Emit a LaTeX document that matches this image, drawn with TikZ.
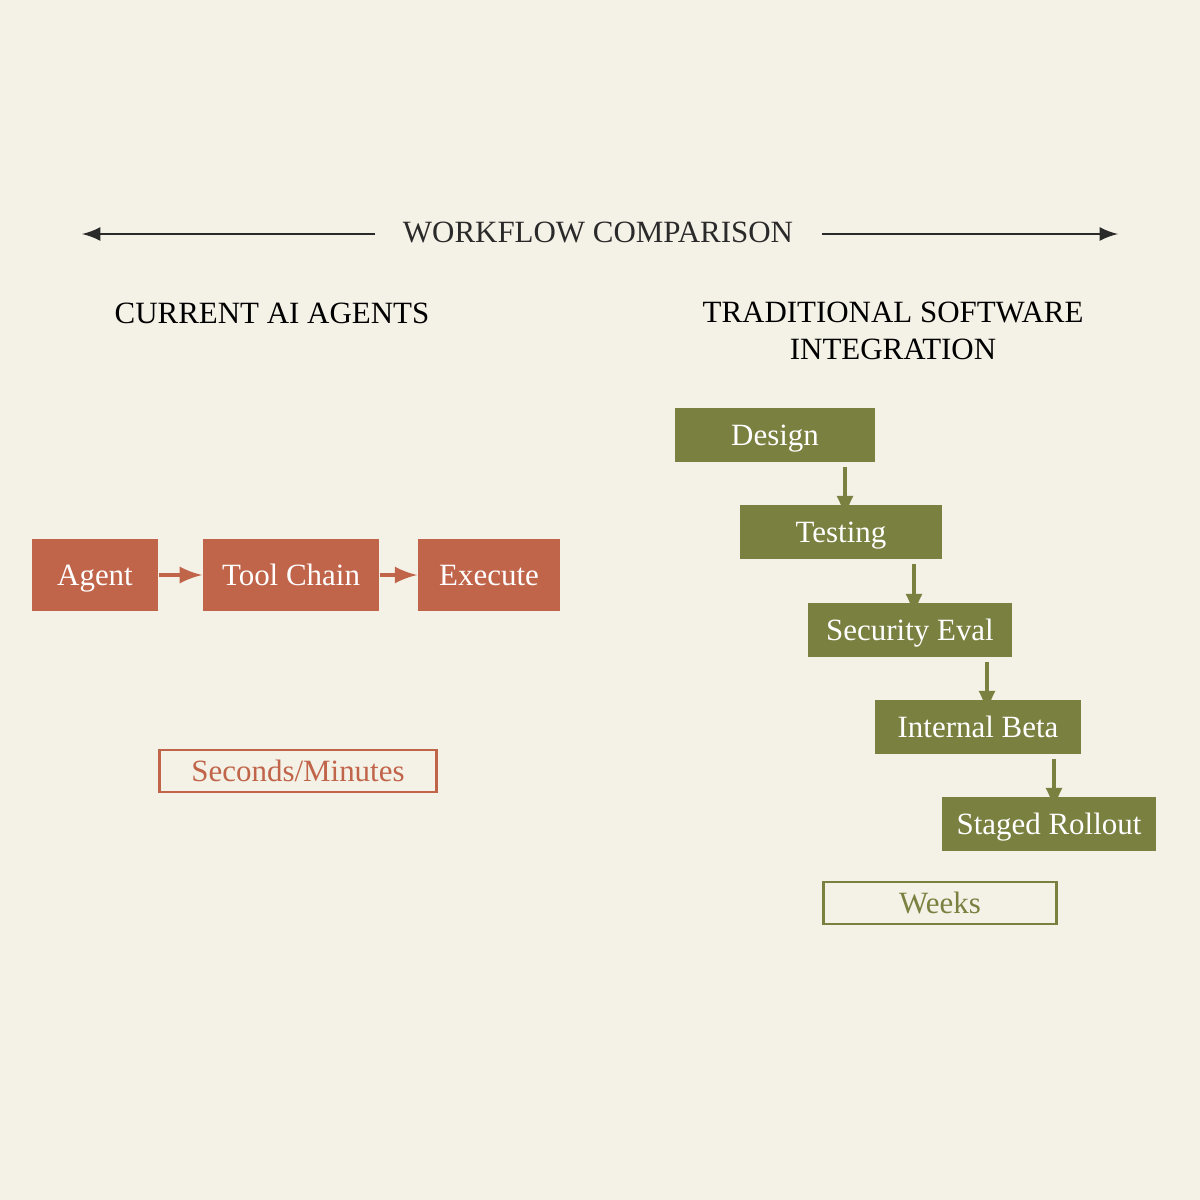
\documentclass[tikz,border=0pt]{standalone}
\usepackage{fontspec}
\setmainfont{Liberation Serif}
\usetikzlibrary{positioning}
\definecolor{paper}{HTML}{F4F1E6}
\definecolor{rust}{HTML}{C0644A}
\definecolor{olive}{HTML}{7A8040}
\definecolor{ink}{HTML}{2A2A2A}
\tikzset{
	every node/.style = {font=\fontsize{8.8}{10}\selectfont, inner sep=0pt},
	fastbox/.style = {fill=rust, text=white, minimum height=0.72cm, text height=1.7ex, text depth=0.45ex},
	slowbox/.style = {fill=olive, text=white, minimum height=0.54cm, text height=1.7ex, text depth=0.45ex},
	stepto/.style = {-latex, very thick},
	tag/.style = {thick, fill=paper, minimum height=0.42cm, text height=1.7ex, text depth=0.45ex}
}
\begin{document}
\begin{tikzpicture}[x=0.01cm, y=-0.01cm]
		\fill[paper] (0,0) rectangle (1200,1200);
		\useasboundingbox (0,0) rectangle (1200,1200);
		% header
		\node[text=ink] (title) at (598,232) {WORKFLOW COMPARISON};
		\coordinate (lend) at (82,234);
		\coordinate (rend) at (1118,234);
		\draw[-latex, thick, ink] (375,234) -- (lend);
		\draw[-latex, thick, ink] (822,234) -- (rend);
		\node[text=black] (fasthead) at (272,313) {CURRENT AI AGENTS};
		\node[text=black, align=center, font=\fontsize{8.8}{10.3}\selectfont] (slowhead) at (893,331) {TRADITIONAL SOFTWARE\\INTEGRATION};
		% current agents
		\node[fastbox, minimum width=1.26cm] (agent) at (95,575) {Agent};
		\node[fastbox, minimum width=1.76cm] (tools) at (291,575) {Tool Chain};
		\node[fastbox, minimum width=1.42cm] (exec) at (489,575) {Execute};
		\draw[stepto, rust] (agent) -- (tools);
		\draw[stepto, rust] (tools) -- (exec);
		\node[tag, draw=rust, text=rust, minimum width=2.77cm] (fasttime) at (298,771) {Seconds/Minutes};
		% traditional
		\node[slowbox, minimum width=2.0cm] (design) at (775,435) {Design};
		\node[slowbox, minimum width=2.01cm] (test) at (841,532) {Testing};
		\node[slowbox, minimum width=2.04cm] (sec) at (910,630) {Security Eval};
		\node[slowbox, minimum width=2.06cm] (beta) at (978,727) {Internal Beta};
		\node[slowbox, minimum width=2.13cm] (roll) at (1049,824) {Staged Rollout};
		\foreach \a/\b/\x in {design/test/845, test/sec/914, sec/beta/987, beta/roll/1054}
			\draw[stepto, olive] (\x,0 |- \a.south) ++(0,4) -- ([yshift=-4pt]\x,0 |- \b.north);
		\node[tag, draw=olive, text=olive, minimum width=2.33cm] (slowtime) at (940,903) {Weeks};
	\end{tikzpicture}
\end{document}
